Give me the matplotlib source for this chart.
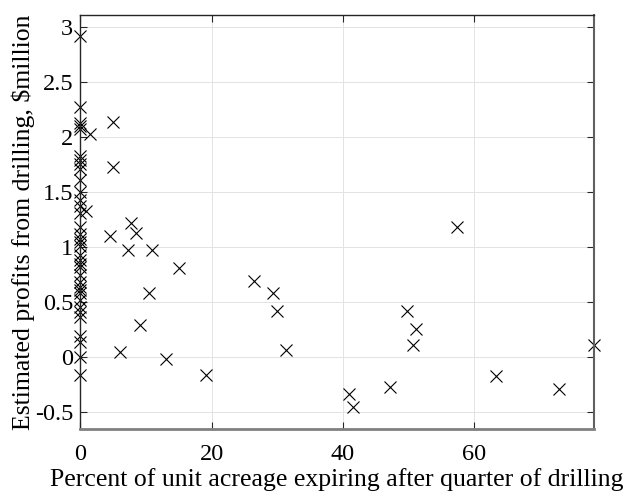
import matplotlib
matplotlib.use('Agg')
from matplotlib import pyplot as plt

# points sitting on (or very near) x = 0
x_zero = [0, 0, 0, 0, 0, 0, 0, 0, 0, 0, 0, 0, 0, 0, 0, 0, 0, 0, 0, 0,
          0, 0, 0, 0, 0, 0, 0, 0, 0, 0, 0, 0, 0, 0, 0, 0]
y_zero = [2.92, 2.27, 2.13, 2.10, 2.07, 1.83, 1.79, 1.76, 1.71, 1.61,
          1.50, 1.43, 1.37, 1.31, 1.18, 1.12, 1.07, 1.01, 0.93, 0.88,
          0.85, 0.82, 0.68, 0.64, 0.61, 0.58, 0.52, 0.46, 0.41, 0.37,
          0.19, 0.14, 0.00, -0.16, 1.05, 0.75]

# points away from the axis
x_other = [1.5, 0.9, 5.0, 5.0, 4.5, 7.8, 8.5, 7.3, 11.0, 15.1, 10.5, 9.1,
           6.0, 13.0, 19.1, 26.4, 29.3, 29.9, 31.3, 40.9, 41.5, 47.2,
           49.7, 51.1, 50.7, 57.3, 63.3, 72.8, 78.2]
y_other = [2.03, 1.33, 2.14, 1.73, 1.10, 1.22, 1.13, 0.97, 0.97, 0.81,
           0.58, 0.29, 0.05, -0.02, -0.16, 0.69, 0.58, 0.42, 0.07, -0.33,
           -0.45, -0.27, 0.42, 0.26, 0.11, 1.18, -0.17, -0.29, 0.11]

plt.rcParams['font.family'] = ['Liberation Serif', 'DejaVu Serif']

fig = plt.figure(figsize=(6.3, 4.92), dpi=100)
ax = fig.add_axes([0.1273, 0.128, 0.8156, 0.8415])

ax.plot(x_zero + x_other, y_zero + y_other, 'x', color='black',
        markersize=8.5, markeredgewidth=0.8, clip_on=False)

ax.set_xlim(0, max(x_other))
ax.set_ylim(-0.652, 3.109)
ax.set_xticks([0, 20, 40, 60])
ax.set_yticks([-0.5, 0, 0.5, 1, 1.5, 2, 2.5, 3])
ax.set_yticklabels(['-0.5', '0', '0.5', '1', '1.5', '2', '2.5', '3'])

ax.grid(True, color='#e3e3e3', linewidth=0.7)
ax.set_axisbelow(True)
ax.tick_params(direction='in', length=5, width=0.8, top=True, right=True,
               labelsize=17.5, pad=5, colors='#262626', labelcolor='black')
ax.tick_params(axis='x', pad=11)

for side in ['left', 'top']:
    ax.spines[side].set_color('#262626')
    ax.spines[side].set_linewidth(1.0)
ax.spines['bottom'].set_color('#808080')
ax.spines['bottom'].set_linewidth(2.0)
ax.spines['right'].set_color('#606060')
ax.spines['right'].set_linewidth(1.5)

ax.set_xlabel('Percent of unit acreage expiring after quarter of drilling',
              fontsize=18.5, labelpad=2)
ax.set_ylabel('Estimated profits from drilling, \\$million', fontsize=18.5)
ax.yaxis.set_label_coords(-0.088, 0.5)

fig.savefig('out.png', dpi=100)
